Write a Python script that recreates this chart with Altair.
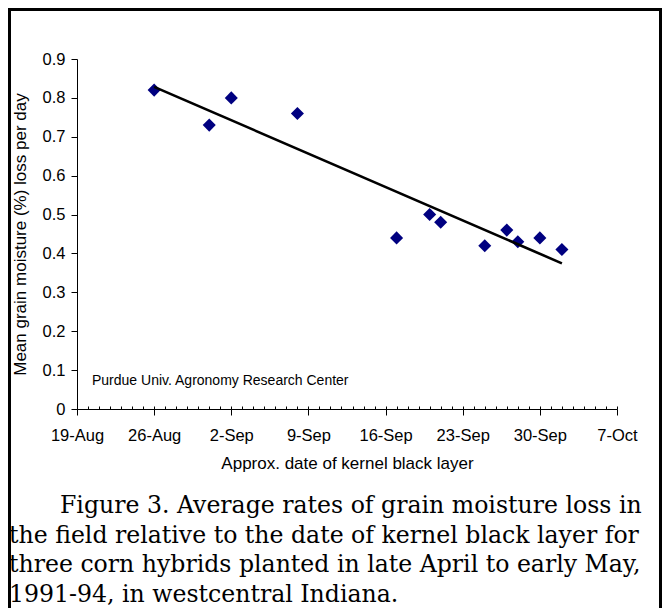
import altair as alt
import pandas as pd

# Data
dates = ["1993-08-26", "1993-08-31", "1993-09-02", "1993-09-08", "1993-09-17",
         "1993-09-20", "1993-09-21", "1993-09-25", "1993-09-27", "1993-09-28",
         "1993-09-30", "1993-10-02"]
loss = [0.82, 0.73, 0.80, 0.76, 0.44, 0.50, 0.48, 0.42, 0.46, 0.43, 0.44, 0.41]

major_ticks = ["1993-08-19", "1993-08-26", "1993-09-02", "1993-09-09",
               "1993-09-16", "1993-09-23", "1993-09-30", "1993-10-07"]
y_ticks = [0, 0.1, 0.2, 0.3, 0.4, 0.5, 0.6, 0.7, 0.8, 0.9]

caption_first = "Figure 3. Average rates of grain moisture loss in"
caption_rest = [
    "the field relative to the date of kernel black layer for",
    "three corn hybrids planted in late April to early May,",
    "1991-94, in westcentral Indiana.",
]
note = "Purdue Univ. Agronomy Research Center"

df = pd.DataFrame({"date": dates, "loss": loss})


def dt(s):
    y, m, d = (int(p) for p in s.split("-"))
    return alt.DateTime(year=y, month=m, date=d, utc=True)


minor_ticks = [dt(d.strftime("%Y-%m-%d")) for d in pd.date_range(major_ticks[0], major_ticks[-1], freq="D")]

W, H = 540, 350
FONT = "Liberation Sans"
SERIF = "DejaVu Serif"
CAP_SIZE = 23.6
CAP_LH = 29.7
CAP_Y = 454

xscale = alt.Scale(type="utc", domain=[dt(major_ticks[0]), dt(major_ticks[-1])], nice=False)
yscale = alt.Scale(domain=[0, 0.9], nice=False, zero=True)

yenc = alt.Y(
    "loss:Q",
    scale=yscale,
    axis=alt.Axis(
        values=y_ticks, format=".1~f", grid=False, tickSize=6, labelPadding=6,
        title="Mean grain moisture (%) loss per day", titlePadding=13,
    ),
)

points = alt.Chart(df).mark_point(
    shape="diamond", filled=True, size=170, color="#000080", opacity=1
).encode(
    x=alt.X(
        "date:T",
        scale=xscale,
        axis=alt.Axis(
            values=[dt(d) for d in major_ticks],
            labelExpr="utcFormat(datum.value, '%-d-%b')",
            labelOverlap=False, labelBound=False, labelFlush=False,
            grid=False, tickSize=6, labelPadding=12,
            title="Approx. date of kernel black layer", titlePadding=12,
        ),
    ),
    y=yenc,
)

trend = alt.Chart(df).transform_calculate(
    t="toDate(datum.date)"
).transform_regression("t", "loss").mark_line(
    color="black", strokeWidth=2.6
).encode(
    x=alt.X(
        "t:T",
        scale=xscale,
        axis=alt.Axis(
            orient="top", offset=-H, values=minor_ticks, labels=False, domain=False,
            grid=False, tickSize=3, title=None,
        ),
    ),
    y=yenc,
)

annot = alt.Chart(alt.Data(values=[{"label": note}])).mark_text(
    align="left", baseline="middle", font=FONT, fontSize=14, color="black"
).encode(x=alt.value(15), y=alt.value(322), text="label:N")

cap1 = alt.Chart(alt.Data(values=[{"label": caption_first}])).mark_text(
    align="left", baseline="alphabetic", font=SERIF, fontSize=CAP_SIZE, color="black",
).encode(x=alt.value(-17), y=alt.value(CAP_Y), text="label:N")

cap2 = alt.Chart(alt.Data(values=[{"label": "\n".join(caption_rest)}])).mark_text(
    align="left", baseline="alphabetic", font=SERIF, fontSize=CAP_SIZE,
    color="black", lineBreak="\n", lineHeight=CAP_LH,
).encode(x=alt.value(-68), y=alt.value(CAP_Y + CAP_LH), text="label:N")

frame = alt.Chart(alt.Data(values=[{}])).mark_rect(
    fill="transparent", stroke="black", strokeWidth=3
).encode(x=alt.value(-67.5), x2=alt.value(583.5), y=alt.value(-49.5), y2=alt.value(700))

chart = alt.layer(frame, points, trend, annot, cap1, cap2).resolve_axis(x="independent").properties(
    width=W,
    height=H,
    autosize=alt.AutoSizeParams(type="none"),
    padding={"left": 69, "top": 51, "right": 45, "bottom": 199},
).configure_view(stroke=None).configure_axis(
    domainColor="black", tickColor="black", labelColor="black", titleColor="black",
    labelFont=FONT, titleFont=FONT, labelFontSize=16.5, titleFontSize=17,
    titleFontWeight="normal", domainWidth=1, tickWidth=1,
)

chart.save("out.html", embed_options={"renderer": "svg", "actions": False})
